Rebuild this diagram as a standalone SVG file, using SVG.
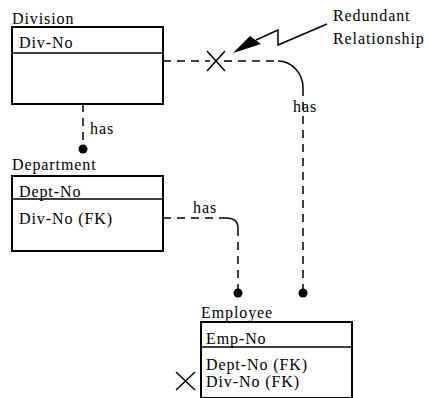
<svg xmlns="http://www.w3.org/2000/svg" width="430" height="398" viewBox="0 0 430 398">
<style>
text{font-family:"Liberation Serif","Times New Roman",Times,Tinos,"Nimbus Roman","Nimbus Roman No9 L","Noto Serif","DejaVu Serif",FreeSerif,serif;font-size:16px;fill:#000;letter-spacing:0.9px}
.box{fill:#fff;stroke:#000;stroke-width:2}
.div{stroke:#000;stroke-width:1.5}
.dash{fill:none;stroke:#000;stroke-width:1.5;stroke-dasharray:8 6}
.solid{fill:none;stroke:#000;stroke-width:1.5}
.dot{fill:#000}
</style>
<rect width="430" height="398" fill="#fff"/>
<g id="connectors">
<path class="dash" d="M163,61 H210"/>
<path class="dash" d="M224,61 H278"/>
<path class="solid" d="M278,61 A25,27 0 0 1 303,88"/>
<path class="dash" d="M303,88 V290"/>
<circle class="dot" cx="303" cy="293" r="4.5"/>
<path class="dash" d="M83,104 V146"/>
<circle class="dot" cx="83" cy="149" r="4.5"/>
<path class="dash" d="M163,218 H226"/>
<path class="solid" d="M226,218 Q238,218 238,228"/>
<path class="dash" d="M238,228 V290"/>
<circle class="dot" cx="238" cy="293" r="4.5"/>
<text x="90" y="134">has</text>
<text x="293" y="112">has</text>
<text x="193" y="213">has</text>
</g>
<g id="redundant-mark">
<path class="solid" d="M207,51 L225,71 M225,51 L207,71"/>
<path class="solid" d="M327,24 L278,45 L278,30 L256,40"/>
<polygon points="233,53 250,36 261,44" fill="#000"/>
<text x="333" y="21">Redundant</text>
<text x="333" y="44">Relationship</text>
</g>
<g id="division">
<text x="12" y="24">Division</text>
<rect class="box" x="12" y="27" width="151" height="77"/>
<line class="div" x1="12" y1="53" x2="163" y2="53"/>
<text x="19" y="48">Div-No</text>
</g>
<g id="department">
<text x="12" y="170">Department</text>
<rect class="box" x="12" y="176" width="151" height="75"/>
<line class="div" x1="12" y1="199" x2="163" y2="199"/>
<text x="19" y="197">Dept-No</text>
<text x="19" y="224">Div-No (FK)</text>
</g>
<g id="employee">
<text x="201" y="318">Employee</text>
<rect class="box" x="201" y="322" width="151" height="76"/>
<line class="div" x1="201" y1="347" x2="352" y2="347"/>
<text x="206" y="344">Emp-No</text>
<text x="206" y="370">Dept-No (FK)</text>
<text x="206" y="387">Div-No (FK)</text>
<path class="solid" d="M176,372 L195,390 M195,372 L176,390"/>
</g>
</svg>
